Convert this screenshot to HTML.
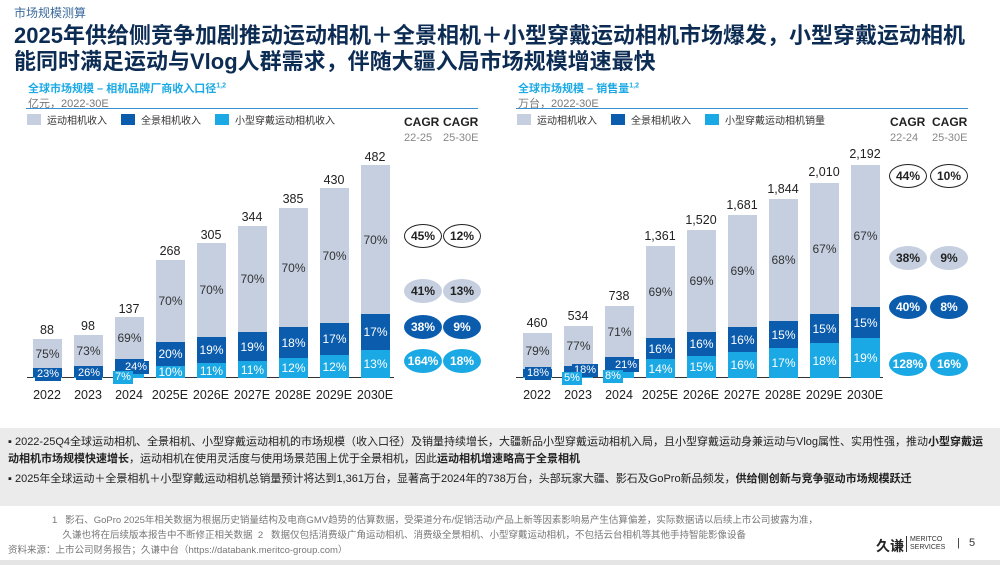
<!DOCTYPE html>
<html><head><meta charset="utf-8"><style>
*{margin:0;padding:0;box-sizing:border-box}
body{width:1000px;height:565px;background:#fff;position:relative;overflow:hidden;font-family:"Liberation Sans","Noto Sans CJK SC",sans-serif;color:#222}
.a{position:absolute}
.bar{position:absolute;width:29px;bottom:187px;display:flex;flex-direction:column-reverse}
.bar div{display:flex;align-items:center;justify-content:center;font-size:12px;color:#333;flex-shrink:0}
.c{background:#1aa9e4;color:#fff!important}
.d{background:#0b5cad;color:#fff!important}
.l{background:#c5cfe0}
.v{position:absolute;width:50px;text-align:center;font-size:12.5px;color:#222}
.y{position:absolute;top:388px;width:50px;text-align:center;font-size:12.5px;color:#222}
.e{position:absolute;width:38px;height:24px;border-radius:50%;display:flex;align-items:center;justify-content:center;font-size:12px;font-weight:bold}
.o{border:1.5px solid #222;background:#fff;color:#222}
.g{background:#c5cfe0;color:#222}
.k{background:#0b5cad;color:#fff}
.q{background:#1aa9e4;color:#fff}
.tag{position:absolute;font-size:11px;color:#fff;padding:0 2px;line-height:13px}
.leg{position:absolute;top:112px;font-size:10px;color:#333;display:flex;align-items:center;gap:6px}
.sw{width:14px;height:11px;display:inline-block}
</style></head><body>
<div class="a" style="left:14px;top:4px;font-size:12px;color:#3a6a9a">市场规模测算</div>
<div class="a" style="left:14px;top:23px;font-size:22px;font-weight:bold;color:#0d2c54;line-height:26px;width:990px;white-space:nowrap">2025年供给侧竞争加剧推动运动相机＋全景相机＋小型穿戴运动相机市场爆发，小型穿戴运动相机<br>能同时满足运动与Vlog人群需求，伴随大疆入局市场规模增速最快</div>

<div class="a" style="left:28px;top:80px;font-size:11px;font-weight:bold;color:#1aa9e4">全球市场规模 – 相机品牌厂商收入口径<sup style="font-size:7px">1,2</sup></div>
<div class="a" style="left:28px;top:95px;font-size:11px;color:#777">亿元，2022-30E</div>
<div class="a" style="left:26px;top:108px;width:452px;border-top:1.5px solid #3a8fd0"></div>
<div class="leg" style="left:27px"><span class="sw" style="background:#c5cfe0"></span>运动相机收入 <span class="sw" style="background:#0b5cad;margin-left:8px"></span>全景相机收入 <span class="sw" style="background:#1aa9e4;margin-left:8px"></span>小型穿戴运动相机收入</div>
<div class="a" style="left:404px;top:115px;font-size:12px;font-weight:bold;line-height:15px">CAGR<br><span style="font-weight:normal;color:#888;font-size:11px">22-25</span></div>
<div class="a" style="left:443px;top:115px;font-size:12px;font-weight:bold;line-height:15px">CAGR<br><span style="font-weight:normal;color:#888;font-size:11px">25-30E</span></div>
<div class="a" style="left:27px;top:377px;width:367px;border-top:1.5px solid #333"></div>

<div class="bar" style="left:33px;height:39px"><div class="c" style="height:1px"></div><div class="d" style="height:9px"></div><div class="l" style="flex:1">75%</div></div>
<div class="bar" style="left:74px;height:43px"><div class="c" style="height:1px"></div><div class="d" style="height:11px"></div><div class="l" style="flex:1">73%</div></div>
<div class="bar" style="left:115px;height:61px"><div class="c" style="height:4px"></div><div class="d" style="height:15px"></div><div class="l" style="flex:1">69%</div></div>
<div class="bar" style="left:156px;height:118px"><div class="c" style="height:12px">10%</div><div class="d" style="height:24px">20%</div><div class="l" style="flex:1">70%</div></div>
<div class="bar" style="left:197px;height:135px"><div class="c" style="height:15px">11%</div><div class="d" style="height:26px">19%</div><div class="l" style="flex:1">70%</div></div>
<div class="bar" style="left:238px;height:152px"><div class="c" style="height:17px">11%</div><div class="d" style="height:29px">19%</div><div class="l" style="flex:1">70%</div></div>
<div class="bar" style="left:279px;height:170px"><div class="c" style="height:20px">12%</div><div class="d" style="height:31px">18%</div><div class="l" style="flex:1">70%</div></div>
<div class="bar" style="left:320px;height:190px"><div class="c" style="height:23px">12%</div><div class="d" style="height:32px">17%</div><div class="l" style="flex:1">70%</div></div>
<div class="bar" style="left:361px;height:213px"><div class="c" style="height:28px">13%</div><div class="d" style="height:36px">17%</div><div class="l" style="flex:1">70%</div></div>
<div class="tag d" style="left:35px;top:368px">23%</div>
<div class="tag d" style="left:76px;top:367px">26%</div>
<div class="tag d" style="left:123px;top:361px">24%</div>
<div class="tag c" style="left:113px;top:371px">7%</div>
<div class="v" style="left:22px;top:323px">88</div>
<div class="v" style="left:63px;top:319px">98</div>
<div class="v" style="left:104px;top:302px">137</div>
<div class="v" style="left:145px;top:244px">268</div>
<div class="v" style="left:186px;top:228px">305</div>
<div class="v" style="left:227px;top:210px">344</div>
<div class="v" style="left:268px;top:192px">385</div>
<div class="v" style="left:309px;top:173px">430</div>
<div class="v" style="left:350px;top:150px">482</div>
<div class="y" style="left:22px">2022</div><div class="y" style="left:63px">2023</div><div class="y" style="left:104px">2024</div><div class="y" style="left:145px">2025E</div><div class="y" style="left:186px">2026E</div><div class="y" style="left:227px">2027E</div><div class="y" style="left:268px">2028E</div><div class="y" style="left:309px">2029E</div><div class="y" style="left:350px">2030E</div>
<div class="e o" style="left:404px;top:224px">45%</div><div class="e o" style="left:443px;top:224px">12%</div>
<div class="e g" style="left:404px;top:279px">41%</div><div class="e g" style="left:443px;top:279px">13%</div>
<div class="e k" style="left:404px;top:315px">38%</div><div class="e k" style="left:443px;top:315px">9%</div>
<div class="e q" style="left:404px;top:349px">164%</div><div class="e q" style="left:443px;top:349px">18%</div>

<div class="a" style="left:518px;top:80px;font-size:11px;font-weight:bold;color:#1aa9e4">全球市场规模 – 销售量<sup style="font-size:7px">1,2</sup></div>
<div class="a" style="left:518px;top:95px;font-size:11px;color:#777">万台，2022-30E</div>
<div class="a" style="left:516px;top:108px;width:452px;border-top:1.5px solid #3a8fd0"></div>
<div class="leg" style="left:517px"><span class="sw" style="background:#c5cfe0"></span>运动相机收入 <span class="sw" style="background:#0b5cad;margin-left:8px"></span>全景相机收入 <span class="sw" style="background:#1aa9e4;margin-left:8px"></span>小型穿戴运动相机销量</div>
<div class="a" style="left:890px;top:115px;font-size:12px;font-weight:bold;line-height:15px">CAGR<br><span style="font-weight:normal;color:#888;font-size:11px">22-24</span></div>
<div class="a" style="left:932px;top:115px;font-size:12px;font-weight:bold;line-height:15px">CAGR<br><span style="font-weight:normal;color:#888;font-size:11px">25-30E</span></div>
<div class="a" style="left:516px;top:377px;width:367px;border-top:1.5px solid #333"></div>

<div class="bar" style="left:523px;height:45px"><div class="c" style="height:1px"></div><div class="d" style="height:8px"></div><div class="l" style="flex:1">79%</div></div>
<div class="bar" style="left:564px;height:52px"><div class="c" style="height:3px"></div><div class="d" style="height:9px"></div><div class="l" style="flex:1">77%</div></div>
<div class="bar" style="left:605px;height:72px"><div class="c" style="height:6px"></div><div class="d" style="height:15px"></div><div class="l" style="flex:1">71%</div></div>
<div class="bar" style="left:646px;height:132px"><div class="c" style="height:19px">14%</div><div class="d" style="height:21px">16%</div><div class="l" style="flex:1">69%</div></div>
<div class="bar" style="left:687px;height:148px"><div class="c" style="height:22px">15%</div><div class="d" style="height:24px">16%</div><div class="l" style="flex:1">69%</div></div>
<div class="bar" style="left:728px;height:163px"><div class="c" style="height:26px">16%</div><div class="d" style="height:25px">16%</div><div class="l" style="flex:1">69%</div></div>
<div class="bar" style="left:769px;height:179px"><div class="c" style="height:30px">17%</div><div class="d" style="height:27px">15%</div><div class="l" style="flex:1">68%</div></div>
<div class="bar" style="left:810px;height:195px"><div class="c" style="height:35px">18%</div><div class="d" style="height:29px">15%</div><div class="l" style="flex:1">67%</div></div>
<div class="bar" style="left:851px;height:213px"><div class="c" style="height:40px">19%</div><div class="d" style="height:31px">15%</div><div class="l" style="flex:1">67%</div></div>
<div class="tag d" style="left:525px;top:367px">18%</div>
<div class="tag d" style="left:572px;top:364px">18%</div>
<div class="tag c" style="left:562px;top:372px">5%</div>
<div class="tag d" style="left:613px;top:359px">21%</div>
<div class="tag c" style="left:603px;top:370px">8%</div>
<div class="v" style="left:512px;top:316px">460</div>
<div class="v" style="left:553px;top:309px">534</div>
<div class="v" style="left:594px;top:289px">738</div>
<div class="v" style="left:635px;top:229px">1,361</div>
<div class="v" style="left:676px;top:213px">1,520</div>
<div class="v" style="left:717px;top:198px">1,681</div>
<div class="v" style="left:758px;top:182px">1,844</div>
<div class="v" style="left:799px;top:165px">2,010</div>
<div class="v" style="left:840px;top:147px">2,192</div>
<div class="y" style="left:512px">2022</div><div class="y" style="left:553px">2023</div><div class="y" style="left:594px">2024</div><div class="y" style="left:635px">2025E</div><div class="y" style="left:676px">2026E</div><div class="y" style="left:717px">2027E</div><div class="y" style="left:758px">2028E</div><div class="y" style="left:799px">2029E</div><div class="y" style="left:840px">2030E</div>
<div class="e o" style="left:889px;top:164px">44%</div><div class="e o" style="left:930px;top:164px">10%</div>
<div class="e g" style="left:889px;top:246px">38%</div><div class="e g" style="left:930px;top:246px">9%</div>
<div class="e k" style="left:889px;top:295px">40%</div><div class="e k" style="left:930px;top:295px">8%</div>
<div class="e q" style="left:889px;top:352px">128%</div><div class="e q" style="left:930px;top:352px">16%</div>

<div class="a" style="left:0;top:428px;width:1000px;height:78px;background:#ebebeb"></div>
<div class="a" style="left:8px;top:434px;width:985px;font-size:11px;line-height:17px;color:#222">▪ 2022-25Q4全球运动相机、全景相机、小型穿戴运动相机的市场规模（收入口径）及销量持续增长，大疆新品小型穿戴运动相机入局，且小型穿戴运动身兼运动与Vlog属性、实用性强，推动<b>小型穿戴运动相机市场规模快速增长</b>，运动相机在使用灵活度与使用场景范围上优于全景相机，因此<b>运动相机增速略高于全景相机</b></div>
<div class="a" style="left:8px;top:471px;width:985px;font-size:11px;line-height:17px;color:#222">▪ 2025年全球运动＋全景相机＋小型穿戴运动相机总销量预计将达到1,361万台，显著高于2024年的738万台，头部玩家大疆、影石及GoPro新品频发，<b>供给侧创新与竞争驱动市场规模跃迁</b></div>
<div class="a" style="left:52px;top:513px;font-size:9.5px;line-height:15px;color:#777;width:920px">1&nbsp;&nbsp; 影石、GoPro 2025年相关数据为根据历史销量结构及电商GMV趋势的估算数据，受渠道分布/促销活动/产品上新等因素影响易产生估算偏差，实际数据请以后续上市公司披露为准，<br>&nbsp;&nbsp;&nbsp;&nbsp;久谦也将在后续版本报告中不断修正相关数据&nbsp;&nbsp;2&nbsp;&nbsp; 数据仅包括消费级广角运动相机、消费级全景相机、小型穿戴运动相机，不包括云台相机等其他手持智能影像设备</div>
<div class="a" style="left:8px;top:542px;font-size:9.5px;color:#777">资料来源：上市公司财务报告；久谦中台（https://databank.meritco-group.com）</div>
<div class="a" style="left:876px;top:536px;font-size:14px;font-weight:bold;color:#222">久谦</div>
<div class="a" style="left:906px;top:536px;font-size:7px;line-height:8px;color:#333;border-left:1px solid #333;padding-left:3px">MERITCO<br>SERVICES</div>
<div class="a" style="left:957px;top:537px;font-size:11px;color:#333">|&nbsp;&nbsp; 5</div>
<div class="a" style="left:0;top:560px;width:1000px;height:5px;background:#e5e5e5"></div>
</body></html>
